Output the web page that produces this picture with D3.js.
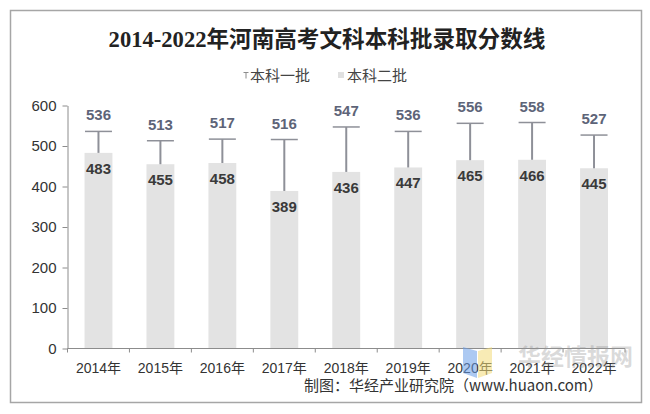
<!DOCTYPE html>
<html><head><meta charset="utf-8">
<script src="https://cdn.jsdelivr.net/npm/d3@7/dist/d3.min.js"></script>
<style>body{margin:0;background:#fff}svg{display:block}</style>
</head><body><svg id="c" width="650" height="414"></svg>
<script>
const years = ["2014年","2015年","2016年","2017年","2018年","2019年","2020年","2021年","2022年"];
const firstBatch = [536,513,517,516,547,536,556,558,527];
const secondBatch = [483,455,458,389,436,447,465,466,445];
const yTicks = [0,100,200,300,400,500,600];

const svg = d3.select("#c");
const sans = "'Liberation Sans', Arial, 'Noto Sans CJK SC', sans-serif";
svg.append("rect").attr("x",10.5).attr("y",10.5).attr("width",631).attr("height",392)
  .attr("fill","#fff").attr("stroke","#a6a6a6").attr("stroke-width",1.5);

svg.append("text").attr("x",327).attr("y",47).attr("text-anchor","middle")
  .attr("font-family","'Liberation Serif','Noto Sans CJK SC',serif").attr("font-weight","bold")
  .attr("font-size",22.6).attr("fill","#222").text("2014-2022年河南高考文科本科批录取分数线");

// legend
const lg = svg.append("g").attr("font-family",sans).attr("font-size",15).attr("fill","#444");
lg.append("path").attr("d","M243.5,72.5h5M246,72.5v6").attr("stroke","#8c8c8c").attr("stroke-width",1).attr("fill","none");
lg.append("text").attr("x",250).attr("y",81).attr("font-family","'Noto Sans CJK SC',sans-serif").text("本科一批");
lg.append("rect").attr("x",338).attr("y",72).attr("width",6).attr("height",6).attr("fill","#e0e0e0");
lg.append("text").attr("x",347).attr("y",81).attr("font-family","'Noto Sans CJK SC',sans-serif").text("本科二批");

const x = d3.scaleBand().domain(years).range([67.5,625]).paddingInner(0.55).paddingOuter(0.275);
const y = d3.scaleLinear().domain([0,600]).range([348.5,105.5]);

// bars
svg.append("g").selectAll("rect").data(years).join("rect")
  .attr("x",d=>x(d)).attr("width",x.bandwidth())
  .attr("y",(d,i)=>y(secondBatch[i])).attr("height",(d,i)=>y(0)-y(secondBatch[i]))
  .attr("fill","#e3e3e3");

// error-bar style lines
const eb = svg.append("g").attr("stroke","#8e9098").attr("stroke-width",2);
years.forEach((d,i)=>{
  const cx = x(d)+x.bandwidth()/2;
  eb.append("line").attr("x1",cx).attr("x2",cx).attr("y1",y(secondBatch[i])).attr("y2",y(firstBatch[i]));
  eb.append("line").attr("x1",cx-13.5).attr("x2",cx+13.5).attr("y1",y(firstBatch[i])).attr("y2",y(firstBatch[i])).attr("stroke-width",1.5);
});

// axes
const ya = svg.append("g").attr("transform","translate(67.5,0)")
  .call(d3.axisLeft(y).tickValues(yTicks).tickSize(5).tickPadding(6).tickSizeOuter(0));
ya.select(".domain").attr("stroke","#8c8c8c");
ya.selectAll(".tick line").attr("stroke","#8c8c8c");
ya.selectAll("text").attr("font-family",sans).attr("font-size",15).attr("fill","#333");

const xb = svg.append("g").attr("transform","translate(0,348.5)");
xb.append("line").attr("x1",67.5).attr("x2",625).attr("stroke","#8c8c8c");
const bounds = years.map(d=>x(d)-x.step()*0.275).concat([625]);
xb.selectAll("line.t").data(bounds).join("line").attr("class","t")
  .attr("x1",d=>d).attr("x2",d=>d).attr("y1",0).attr("y2",4).attr("stroke","#8c8c8c");
xb.selectAll("text").data(years).join("text")
  .attr("x",d=>x(d)+x.bandwidth()/2).attr("y",24).attr("text-anchor","middle")
  .attr("font-family",sans).attr("font-size",14).attr("fill","#333").text(d=>d);

// labels
svg.append("g").selectAll("text").data(years).join("text")
  .attr("x",d=>x(d)+x.bandwidth()/2).attr("y",(d,i)=>y(firstBatch[i])-11)
  .attr("text-anchor","middle").attr("font-family",sans).attr("font-size",15).attr("font-weight","bold")
  .attr("fill","#5d6478").text((d,i)=>firstBatch[i]);
svg.append("g").selectAll("text").data(years).join("text")
  .attr("x",d=>x(d)+x.bandwidth()/2).attr("y",(d,i)=>y(secondBatch[i])+21)
  .attr("text-anchor","middle").attr("font-family",sans).attr("font-size",15).attr("font-weight","bold")
  .attr("fill","#3a3a3a").text((d,i)=>secondBatch[i]);

// watermark
const wm = svg.append("g").attr("opacity",0.55);
wm.append("path").attr("d","M463,347 L477,351 L477,378 L463,373 Z").attr("fill","#6a9de8");
wm.append("path").attr("d","M478,351 L492,347 L492,373 L478,378 Z").attr("fill","#f3dc79");
svg.append("text").attr("x",518).attr("y",365).attr("font-family","'Noto Sans CJK SC',sans-serif")
  .attr("font-size",23).attr("font-weight","bold").attr("fill","rgba(150,150,150,0.35)").text("华经情报网");

svg.append("text").attr("x",304).attr("y",391).attr("font-family","'Noto Sans CJK SC',sans-serif")
  .attr("font-size",15).attr("fill","#333").text("制图：华经产业研究院（www.huaon.com）");
</script></body></html>
